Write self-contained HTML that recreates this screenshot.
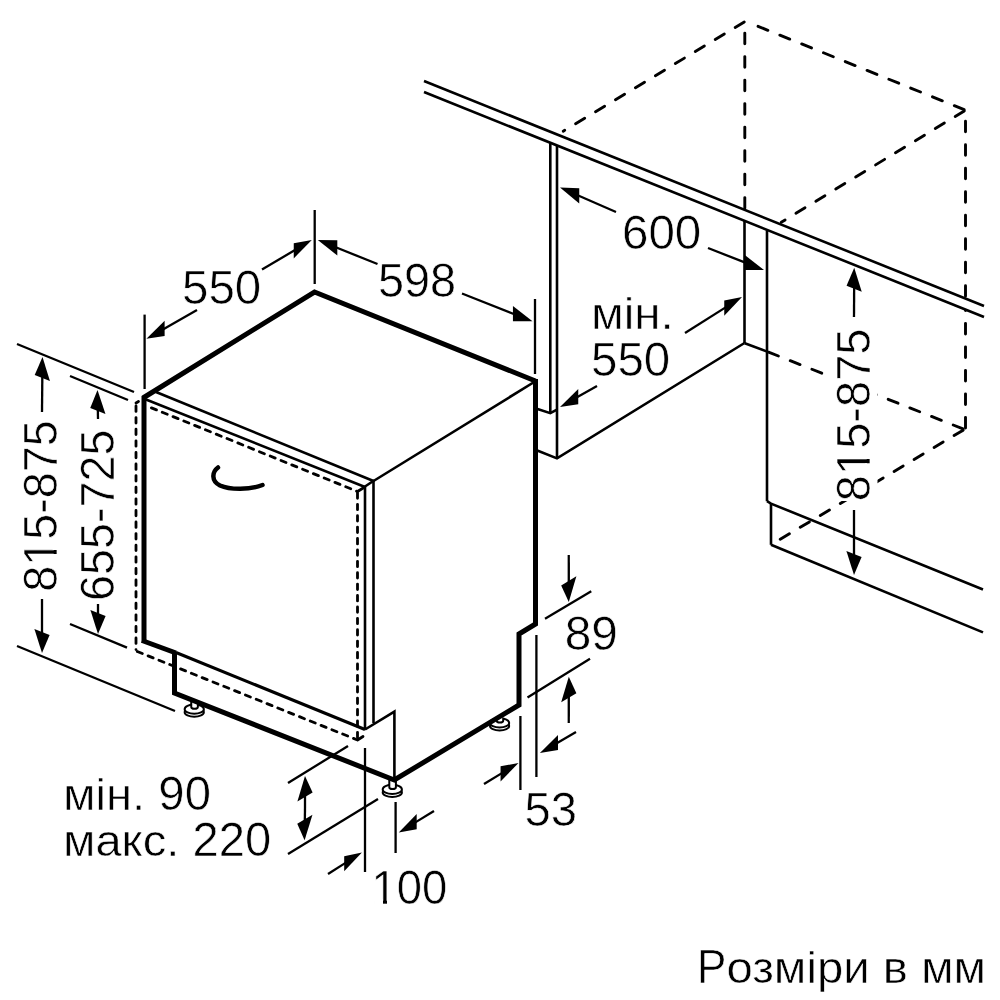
<!DOCTYPE html>
<html><head><meta charset="utf-8"><style>
html,body{margin:0;padding:0;background:#fff;}
svg{display:block;}
text{font-family:"Liberation Sans",sans-serif;fill:#000;stroke:#fff;stroke-width:0.6px;}
svg{will-change:transform;}
</style></head><body>
<svg width="1000" height="1000" viewBox="0 0 1000 1000">
<rect width="1000" height="1000" fill="#fff"/>
<g stroke="#000" fill="none" stroke-linecap="butt">
<line x1="550.3" y1="142.7" x2="550.3" y2="413.2" stroke-width="2.6"/>
<line x1="557" y1="145.5" x2="557" y2="458.4" stroke-width="2.6"/>
<polyline points="536,408.4 550.3,413.2 557,409.6" fill="none" stroke-width="2.6" stroke-linejoin="miter"/>
<polyline points="536,450 557,458.4 744.5,343" fill="none" stroke-width="2.6" stroke-linejoin="miter"/>
<line x1="744.5" y1="221" x2="744.5" y2="343" stroke-width="2.6"/>
<line x1="767" y1="230.5" x2="767" y2="501.2" stroke-width="2.6"/>
<line x1="744.8" y1="343.2" x2="767.2" y2="351.6" stroke-width="2.6"/>
<polyline points="767,501.2 771,503.6 983,589.5" fill="none" stroke-width="2.6" stroke-linejoin="miter"/>
<line x1="771" y1="503.6" x2="771" y2="544.8" stroke-width="2.6"/>
<line x1="771" y1="544.8" x2="983" y2="632.4" stroke-width="2.6"/>
<path d="M744.26,22.00L735.18,27.48M724.31,34.04L715.24,39.52M704.36,46.08L695.29,51.56M684.41,58.12L675.34,63.60M664.47,70.16L655.39,75.64M644.52,82.20L635.44,87.67M624.57,94.24L615.49,99.71M604.62,106.28L595.54,111.75M584.67,118.32L575.60,123.79M564.72,130.36L563.24,131.25" stroke-width="2.9" stroke-linecap="round"/>
<path d="M758.06,26.33L767.89,30.30M779.87,35.15L789.69,39.12M801.67,43.96L811.50,47.93M823.48,52.78L833.30,56.75M845.28,61.59L855.11,65.57M867.09,70.41L876.91,74.38M888.89,79.23L898.72,83.20M910.70,88.04L920.53,92.02M932.50,96.86L942.33,100.83M954.31,105.68L964.14,109.65" stroke-width="2.9" stroke-linecap="round"/>
<path d="M744.80,33.10L744.80,43.70M744.80,56.60L744.80,67.20M744.80,80.10L744.80,90.70M744.80,103.60L744.80,114.20M744.80,127.10L744.80,137.70M744.80,150.60L744.80,161.20M744.80,174.10L744.80,184.70M744.80,197.60L744.80,208.20" stroke-width="2.9" stroke-linecap="round"/>
<path d="M965.50,121.25L965.50,131.85M965.50,144.75L965.50,155.35M965.50,168.25L965.50,178.85M965.50,191.75L965.50,202.35M965.50,215.25L965.50,225.85M965.50,238.75L965.50,249.35M965.50,262.25L965.50,272.85M965.50,285.75L965.50,296.35" stroke-width="2.9" stroke-linecap="round"/>
<path d="M965.50,427.95L965.50,417.35M965.50,404.45L965.50,393.85M965.50,380.95L965.50,370.35M965.50,357.45L965.50,346.85M965.50,333.95L965.50,323.35M965.50,310.45L965.50,310.15" stroke-width="2.9" stroke-linecap="round"/>
<path d="M964.26,110.95L955.20,116.46M944.35,123.06L935.30,128.57M924.44,135.17L915.39,140.67M904.54,147.27L895.48,152.78M884.63,159.38L875.57,164.88M864.72,171.48L855.66,176.99M844.81,183.59L835.75,189.10M824.90,195.69L815.85,201.20M805.00,207.80L795.94,213.31M785.09,219.91L781.24,222.25" stroke-width="2.9" stroke-linecap="round"/>
<path d="M768.55,352.13L778.41,356.02M790.22,360.69L800.08,364.58M811.90,369.24L821.76,373.13M833.57,377.79L843.43,381.68M855.24,386.34L862.65,389.27" stroke-width="2.9" stroke-linecap="round"/>
<path d="M963.05,428.87L953.19,424.98M941.38,420.32L931.52,416.43M919.70,411.77L909.84,407.88M898.03,403.22L888.17,399.33M876.35,394.67L866.49,390.78" stroke-width="2.9" stroke-linecap="round"/>
<path d="M963.16,430.14L954.06,435.59M943.16,442.11L934.07,447.55M923.17,454.08L914.07,459.52M903.18,466.04L894.08,471.49M883.18,478.01L874.09,483.45" stroke-width="2.9" stroke-linecap="round"/>
<path d="M780.25,539.26L789.36,533.84M800.27,527.35L809.38,521.93M820.30,515.44L829.41,510.03M840.33,503.54L849.44,498.12M860.36,491.63L869.47,486.21" stroke-width="2.9" stroke-linecap="round"/>
<polygon points="424,81 984,306 984,317 424,92" fill="#fff" stroke="none"/>
<line x1="424" y1="81" x2="984" y2="306" stroke-width="2.6"/>
<line x1="424" y1="92" x2="984" y2="317" stroke-width="2.6"/>
<ellipse cx="194.25" cy="712.15" rx="9.6" ry="4.6" fill="#fff" stroke-width="2"/>
<ellipse cx="194.25" cy="709.15" rx="9.6" ry="4.6" fill="#fff" stroke-width="2"/>
<path d="M191.25,700 L191.25,706.9499999999999 A3.3,1.8 0 0 0 197.85000000000002,706.9499999999999 L197.85000000000002,700" fill="#fff" stroke-width="2"/>
<ellipse cx="392.3" cy="792.4" rx="9.6" ry="4.6" fill="#fff" stroke-width="2"/>
<ellipse cx="392.3" cy="789.4" rx="9.6" ry="4.6" fill="#fff" stroke-width="2"/>
<path d="M389.3,780 L389.3,787.1999999999999 A3.3,1.8 0 0 0 395.90000000000003,787.1999999999999 L395.90000000000003,780" fill="#fff" stroke-width="2"/>
<ellipse cx="499.6" cy="725.9" rx="9.6" ry="4.6" fill="#fff" stroke-width="2"/>
<ellipse cx="499.6" cy="722.9" rx="9.6" ry="4.6" fill="#fff" stroke-width="2"/>
<path d="M496.6,718 L496.6,720.6999999999999 A3.3,1.8 0 0 0 503.20000000000005,720.6999999999999 L503.20000000000005,718" fill="#fff" stroke-width="2"/>
<polyline points="143,398 314.5,292 535.5,381" fill="none" stroke-width="5" stroke-linejoin="miter"/>
<line x1="144" y1="396" x2="144" y2="643" stroke-width="5"/>
<polyline points="535.5,379 535.5,624 519,634 519,705 394.3,780 174.5,693 174.5,652" fill="none" stroke-width="5" stroke-linejoin="miter"/>
<line x1="142" y1="640.5" x2="176" y2="653" stroke-width="5"/>
<line x1="156" y1="392" x2="373.5" y2="481" stroke-width="2.6"/>
<line x1="146" y1="399.5" x2="365" y2="487" stroke-width="2.6"/>
<line x1="535" y1="381.5" x2="373.5" y2="481" stroke-width="2.6"/>
<line x1="365" y1="487" x2="365" y2="729.5" stroke-width="2.6"/>
<line x1="373.5" y1="481" x2="373.5" y2="723" stroke-width="2.6"/>
<line x1="176" y1="652.5" x2="365" y2="729.5" stroke-width="3.1"/>
<polyline points="365,729.5 394.4,711.6 394.4,779" fill="none" stroke-width="2.6" stroke-linejoin="miter"/>
<line x1="364.3" y1="487" x2="374" y2="480.5" stroke-width="2.6"/>
<line x1="357.5" y1="491.5" x2="364" y2="487.5" stroke-width="2.8" stroke-linecap="round"/>
<line x1="357.5" y1="740" x2="363" y2="736.5" stroke-width="2.8" stroke-linecap="round"/>
<path d="M151.45,407.87L156.46,409.90M162.25,412.25L167.25,414.28M173.04,416.63L178.05,418.66M183.84,421.01L188.84,423.04M194.63,425.39L199.64,427.42M205.43,429.77L210.43,431.81M216.22,434.16L221.23,436.19M227.02,438.54L232.02,440.57M237.81,442.92L242.82,444.95M248.61,447.30L253.61,449.33M259.40,451.68L264.40,453.71M270.20,456.06L275.20,458.09M280.99,460.45L285.99,462.48M291.79,464.83L296.79,466.86M302.58,469.21L307.58,471.24M313.37,473.59L318.38,475.62M324.17,477.97L329.17,480.00M334.96,482.35L339.97,484.38M345.76,486.73L350.76,488.77M356.55,491.12L356.83,491.23" stroke-width="2.8" stroke-linecap="round"/>
<path d="M136.00,406.00L136.00,411.40M136.00,417.60L136.00,423.00M136.00,429.20L136.00,434.60M136.00,440.80L136.00,446.20M136.00,452.40L136.00,457.80M136.00,464.00L136.00,469.40M136.00,475.60L136.00,481.00M136.00,487.20L136.00,492.60M136.00,498.80L136.00,504.20M136.00,510.40L136.00,515.80M136.00,522.00L136.00,527.40M136.00,533.60L136.00,539.00M136.00,545.20L136.00,550.60M136.00,556.80L136.00,562.20M136.00,568.40L136.00,573.80M136.00,580.00L136.00,585.40M136.00,591.60L136.00,597.00M136.00,603.20L136.00,608.60M136.00,614.80L136.00,620.20M136.00,626.40L136.00,631.80M136.00,638.00L136.00,643.40M136.00,649.60L136.00,649.60" stroke-width="2.8" stroke-linecap="round"/>
<path d="M357.50,492.90L357.50,498.30M357.50,504.30L357.50,509.70M357.50,515.70L357.50,521.10M357.50,527.10L357.50,532.50M357.50,538.50L357.50,543.90M357.50,549.90L357.50,555.30M357.50,561.30L357.50,566.70M357.50,572.70L357.50,578.10M357.50,584.10L357.50,589.50M357.50,595.50L357.50,600.90M357.50,606.90L357.50,612.30M357.50,618.30L357.50,623.70M357.50,629.70L357.50,635.10M357.50,641.10L357.50,646.50M357.50,652.50L357.50,657.90M357.50,663.90L357.50,669.30M357.50,675.30L357.50,680.70M357.50,686.70L357.50,692.10M357.50,698.10L357.50,703.50M357.50,709.50L357.50,714.90M357.50,720.90L357.50,726.30M357.50,732.30L357.50,737.70" stroke-width="2.8" stroke-linecap="round"/>
<path d="M137.30,651.52L142.31,653.54M148.11,655.87L153.12,657.88M158.92,660.21L163.93,662.22M169.73,664.55L174.74,666.57M180.54,668.90L185.55,670.91M191.35,673.24L196.36,675.25M202.16,677.58L207.17,679.60M212.97,681.93L217.98,683.94M223.78,686.27L228.79,688.28M234.59,690.61L239.60,692.63M245.40,694.96L250.41,696.97M256.21,699.30L261.22,701.31M267.02,703.64L272.03,705.66M277.83,707.99L282.84,710.00M288.64,712.33L293.65,714.34M299.45,716.67L304.46,718.69M310.26,721.02L315.27,723.03M321.07,725.36L326.08,727.38M331.88,729.71L336.89,731.72M342.69,734.05L347.70,736.06M353.50,738.39L356.20,739.48" stroke-width="2.8" stroke-linecap="round"/>
<line x1="136" y1="403" x2="138.5" y2="401.5" stroke-width="2.8" stroke-linecap="round"/>
<path d="M218,467.5 C212,472 211,481 220,485.5 C230,490 250,490 262.5,485" fill="none" stroke-width="4.5" stroke-linecap="round"/>
<line x1="144.6" y1="314.6" x2="144.6" y2="389" stroke-width="2.3"/>
<line x1="314.7" y1="210" x2="314.7" y2="284" stroke-width="2.3"/>
<line x1="197" y1="310" x2="162.04357412143088" y2="329.8961475356283" stroke-width="2.3"/>
<polygon points="146.40,338.80 164.65,336.01 164.65,320.81" stroke="none" fill="#000"/>
<line x1="262" y1="269.5" x2="296.2996058941037" y2="249.2508350745653" stroke-width="2.3"/>
<polygon points="311.80,240.10 293.72,258.38 293.72,243.18" stroke="none" fill="#000"/>
<line x1="377.5" y1="264" x2="334.5106493227623" y2="246.7898579365832" stroke-width="2.3"/>
<polygon points="317.80,240.10 337.30,255.50 337.30,240.30" stroke="none" fill="#000"/>
<line x1="462" y1="293.5" x2="515.7548589148856" y2="314.69695145863574" stroke-width="2.3"/>
<polygon points="532.50,321.30 512.96,321.20 512.96,306.00" stroke="none" fill="#000"/>
<line x1="535" y1="299" x2="535" y2="374" stroke-width="2.3"/>
<line x1="616" y1="212" x2="576.4908320282394" y2="194.71473901235473" stroke-width="2.3"/>
<polygon points="560.00,187.50 579.24,203.52 579.24,188.32" stroke="none" fill="#000"/>
<line x1="708" y1="248" x2="747.2464731180737" y2="263.4182572963861" stroke-width="2.3"/>
<polygon points="764.00,270.00 744.45,269.92 744.45,254.72" stroke="none" fill="#000"/>
<line x1="685" y1="333" x2="726.7811997454426" y2="306.6118738449837" stroke-width="2.3"/>
<polygon points="742.00,297.00 724.24,315.81 724.24,300.61" stroke="none" fill="#000"/>
<line x1="597" y1="386" x2="575.6543464742515" y2="398.1151006497491" stroke-width="2.3"/>
<polygon points="560.00,407.00 578.26,404.23 578.26,389.03" stroke="none" fill="#000"/>
<line x1="854" y1="317" x2="854.1586306187842" y2="285.7497680995111" stroke-width="2.3"/>
<polygon points="854.25,267.75 861.74,291.79 846.54,285.71" stroke="none" fill="#000"/>
<line x1="854" y1="510" x2="854.0" y2="557.0" stroke-width="2.3"/>
<polygon points="854.00,575.00 861.60,557.04 846.40,550.96" stroke="none" fill="#000"/>
<line x1="17" y1="344" x2="134" y2="392" stroke-width="2.3"/>
<line x1="42" y1="412" x2="42.336370397777756" y2="374.99925624444734" stroke-width="2.3"/>
<polygon points="42.50,357.00 49.91,381.04 34.71,374.96" stroke="none" fill="#000"/>
<line x1="42" y1="599" x2="42.0" y2="635.0" stroke-width="2.3"/>
<polygon points="42.00,653.00 49.60,635.04 34.40,628.96" stroke="none" fill="#000"/>
<line x1="17" y1="646" x2="175" y2="711" stroke-width="2.3"/>
<line x1="70" y1="376" x2="128" y2="400" stroke-width="2.3"/>
<line x1="98" y1="419" x2="97.8102987105152" y2="407.9973252098819" stroke-width="2.3"/>
<polygon points="97.50,390.00 105.46,414.04 90.26,407.96" stroke="none" fill="#000"/>
<line x1="98" y1="604" x2="98.0" y2="616.0" stroke-width="2.3"/>
<polygon points="98.00,634.00 105.60,616.04 90.40,609.96" stroke="none" fill="#000"/>
<line x1="70" y1="624" x2="127" y2="647.6" stroke-width="2.3"/>
<line x1="545" y1="618.75" x2="591.25" y2="591.25" stroke-width="2.3"/>
<line x1="527.5" y1="697.5" x2="590" y2="658.75" stroke-width="2.3"/>
<line x1="568.75" y1="555" x2="568.7808102454467" y2="583.9000102290773" stroke-width="2.3"/>
<polygon points="568.80,601.90 576.38,576.34 561.18,585.46" stroke="none" fill="#000"/>
<line x1="568.75" y1="723" x2="568.7805615664103" y2="694.6999895040886" stroke-width="2.3"/>
<polygon points="568.80,676.70 576.38,693.14 561.18,702.26" stroke="none" fill="#000"/>
<line x1="520.4" y1="716" x2="520.4" y2="790" stroke-width="2.3"/>
<line x1="536.4" y1="635" x2="536.4" y2="777" stroke-width="2.3"/>
<line x1="484" y1="784" x2="503.1244259989401" y2="772.3590450441234" stroke-width="2.3"/>
<polygon points="518.50,763.00 500.56,781.52 500.56,766.32" stroke="none" fill="#000"/>
<line x1="576" y1="732" x2="555.4402078849222" y2="744.0169422057658" stroke-width="2.3"/>
<polygon points="539.90,753.10 558.03,750.10 558.03,734.90" stroke="none" fill="#000"/>
<line x1="288" y1="783" x2="348" y2="746" stroke-width="2.3"/>
<line x1="288" y1="854" x2="378" y2="799" stroke-width="2.3"/>
<line x1="305" y1="808" x2="305.0" y2="794.0" stroke-width="2.3"/>
<polygon points="305.00,776.00 312.60,792.44 297.40,801.56" stroke="none" fill="#000"/>
<line x1="305" y1="808" x2="304.82289312581696" y2="822.3013800902829" stroke-width="2.3"/>
<polygon points="304.60,840.30 312.46,814.74 297.26,823.86" stroke="none" fill="#000"/>
<line x1="365" y1="748" x2="365" y2="872" stroke-width="2.3"/>
<line x1="395.6" y1="802" x2="395.6" y2="853" stroke-width="2.3"/>
<line x1="328" y1="874" x2="346.6993402334205" y2="862.1405364301315" stroke-width="2.3"/>
<polygon points="361.90,852.50 344.17,871.35 344.17,856.15" stroke="none" fill="#000"/>
<line x1="434" y1="811" x2="414.1171494844995" y2="823.1271286832131" stroke-width="2.3"/>
<polygon points="398.75,832.50 416.68,829.16 416.68,813.96" stroke="none" fill="#000"/>
</g>
<g>
<text x="182.00" y="303.80" font-size="49" textLength="79.23" lengthAdjust="spacingAndGlyphs">550</text>
<text x="378.00" y="297.20" font-size="49" textLength="78.18" lengthAdjust="spacingAndGlyphs">598</text>
<text x="622.00" y="249.40" font-size="49" textLength="79.29" lengthAdjust="spacingAndGlyphs">600</text>
<text x="591.00" y="329.00" font-size="49" textLength="82.72" lengthAdjust="spacingAndGlyphs" transform="translate(0 329.00) scale(1 0.923) translate(0 -329.00)">мін.</text>
<text x="591.00" y="376.00" font-size="49" textLength="79.23" lengthAdjust="spacingAndGlyphs">550</text>
<rect x="830" y="326" width="47.5" height="175" fill="#fff"/>
<text x="869.80" y="501.20" font-size="49" textLength="172.69" lengthAdjust="spacingAndGlyphs" transform="rotate(-90 869.80 501.20)">815-875</text>
<path d="M898.59,496.59H907.79V502.70H898.59Z M911.93,496.59H920.84V502.70H911.93Z" fill="#fff" transform="rotate(-90 869.80 501.20)"/>
<text x="57.20" y="591.80" font-size="49" textLength="171.49" lengthAdjust="spacingAndGlyphs" transform="rotate(-90 57.20 591.80)">815-875</text>
<path d="M85.79,587.19H94.92V593.30H85.79Z M99.04,587.19H107.89V593.30H99.04Z" fill="#fff" transform="rotate(-90 57.20 591.80)"/>
<text x="114.40" y="601.00" font-size="49" textLength="171.52" lengthAdjust="spacingAndGlyphs" transform="rotate(-90 114.40 601.00)">655-725</text>
<text x="564.80" y="650.00" font-size="49" textLength="53.15" lengthAdjust="spacingAndGlyphs">89</text>
<text x="524.40" y="826.20" font-size="49" textLength="52.49" lengthAdjust="spacingAndGlyphs">53</text>
<text x="63.00" y="809.60" font-size="49" textLength="82.20" lengthAdjust="spacingAndGlyphs" transform="translate(0 809.60) scale(1 0.923) translate(0 -809.60)">мін.</text>
<text x="158.36" y="809.60" font-size="49" textLength="52.60" lengthAdjust="spacingAndGlyphs">90</text>
<text x="63.00" y="856.00" font-size="49" textLength="116.39" lengthAdjust="spacingAndGlyphs" transform="translate(0 856.00) scale(1 0.923) translate(0 -856.00)">макс.</text>
<text x="192.48" y="856.00" font-size="49" textLength="78.65" lengthAdjust="spacingAndGlyphs">220</text>
<text x="371.60" y="903.80" font-size="49" textLength="75.74" lengthAdjust="spacingAndGlyphs">100</text>
<path d="M374.13,899.19H383.00V905.30H374.13Z M387.00,899.19H395.59V905.30H387.00Z" fill="#fff"/>
<text x="697.00" y="983.30" font-size="49" textLength="29.40" lengthAdjust="spacingAndGlyphs">Р</text>
<text x="726.40" y="983.30" font-size="49" textLength="259.71" lengthAdjust="spacingAndGlyphs" transform="translate(0 983.30) scale(1 0.923) translate(0 -983.30)">озміри в мм</text>
</g>
</svg>
</body></html>
